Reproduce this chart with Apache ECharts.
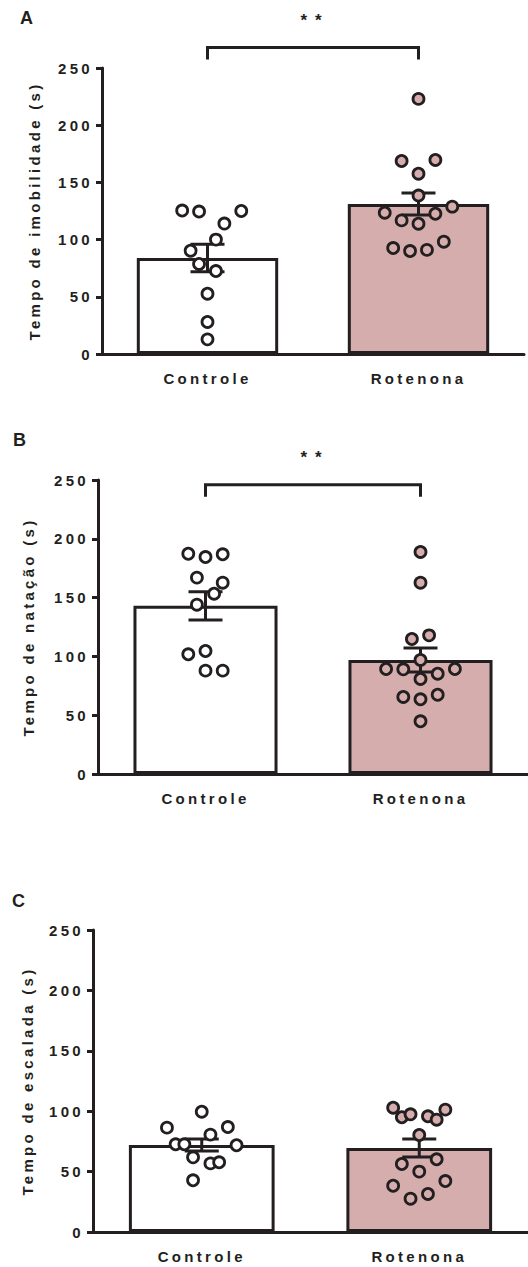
<!DOCTYPE html>
<html><head><meta charset="utf-8">
<script src="https://cdn.jsdelivr.net/npm/echarts@6/dist/echarts.min.js"></script>
<style>
html,body{margin:0;padding:0;background:#fff;}
#chart{width:528px;height:1267px;}
#chart text{letter-spacing:3.3px;}
</style></head><body><div id="chart"></div>
<script>
// ---------- data ----------
const categories = ['Controle', 'Rotenona'];
const yTickValues = [0, 50, 100, 150, 200, 250];

// A: immobility time
const imobMean = [84, 131.2];
const imobSem = [12, 9.6];
const imobCtrl = [125.4, 124.5, 125, 114, 100, 90.3, 78.7, 72.5, 52.7, 28, 12.8];
const imobCtrlJitter = [-3, -1, 4, 2, 1, -2, -1, 1, 0, 0, 0];
const imobRot = [223, 168.7, 169.6, 157.6, 138.5, 123.5, 128.8, 116.8, 122.6, 113.9, 92.6, 90, 91, 98.2];
const imobRotJitter = [0, -2, 2, 0, 0, -4, 4, -2, 2, 0, -3, -1, 1, 3];
const imobSig = '**';
const imobBracket = 268;

// B: swimming time
const natMean = [143, 97];
const natSem = [12, 10.2];
const natCtrl = [187.3, 184.5, 186.8, 167, 162.7, 153.3, 144, 101.8, 104.6, 87.9, 87.9];
const natCtrlJitter = [-2, 0, 2, -1, 2, 1, -1, -2, 0, 0, 2];
const natRot = [188.8, 162.7, 114.8, 117.9, 97, 89.3, 89, 89.3, 80.8, 85.3, 65.5, 63.5, 67.4, 44.8];
const natRotJitter = [0, 0, -1, 1, 0, -4, -2, 4, 0, 2, -2, 0, 2, 0];
const natSig = '**';
const natBracket = 246;

// C: climbing time
const escMean = [72, 69.5];
const escSem = [5, 7.5];
const escCtrl = [99.6, 86.4, 86.9, 80.6, 72.6, 72.6, 71.8, 61.8, 56.8, 57.7, 42.8];
const escCtrlJitter = [0, -4, 3, 1, -3, -2, 4, -1, 1, 2, -1];
const escRot = [102.9, 101.3, 95, 97.4, 95.8, 93, 80.3, 56.3, 60.2, 50, 38.3, 42.2, 27.6, 31.5];
const escRotJitter = [-3, 3, -2, -1, 1, 2, 0, -2, 2, 0, -3, 3, -1, 1];

// ---------- style / layout ----------
const INK = '#231f20';
const PINK = '#d5adad';
const FONT = '"Liberation Sans", Arial, Helvetica, sans-serif';
const JITTER_STEP = 0.04;

const panels = [
  { label: 'A', title: 'Tempo de imobilidade (s)', mean: imobMean, sem: imobSem,
    groups: [[imobCtrl, imobCtrlJitter], [imobRot, imobRotJitter]], sig: imobSig, bracket: imobBracket,
    grid: { left: 102, right: 4, top: 68, height: 286 }, nameGap: 60, labelPos: { left: 20, top: 9 } },
  { label: 'B', title: 'Tempo de natação (s)', mean: natMean, sem: natSem,
    groups: [[natCtrl, natCtrlJitter], [natRot, natRotJitter]], sig: natSig, bracket: natBracket,
    grid: { left: 98, right: -2, top: 480, height: 294 }, nameGap: 62, labelPos: { left: 13, top: 431 } },
  { label: 'C', title: 'Tempo de escalada (s)', mean: escMean, sem: escSem,
    groups: [[escCtrl, escCtrlJitter], [escRot, escRotJitter]], sig: null, bracket: null,
    grid: { left: 93, right: -1, top: 930, height: 302 }, nameGap: 58, labelPos: { left: 12, top: 892 } }
];

const grid = [], xAxis = [], yAxis = [], series = [], graphic = [];

panels.forEach((p, k) => {
  grid.push(p.grid);
  xAxis.push({
    type: 'category', gridIndex: k, data: categories, boundaryGap: true,
    axisLine: { onZero: false, lineStyle: { color: INK, width: 3 } },
    axisTick: { show: false },
    axisLabel: { color: INK, fontSize: 15, fontWeight: 'bold', fontFamily: FONT, margin: 17 }
  });
  xAxis.push({ type: 'value', gridIndex: k, min: -0.5, max: 1.5, show: false });
  yAxis.push({
    type: 'value', gridIndex: k, min: yTickValues[0], max: yTickValues[yTickValues.length - 1],
    interval: yTickValues[1] - yTickValues[0],
    name: p.title, nameLocation: 'middle', nameGap: p.nameGap, nameRotate: 90,
    nameTextStyle: { color: INK, fontSize: 15, fontWeight: 'bold', fontFamily: FONT },
    axisLine: { show: true, onZero: false, lineStyle: { color: INK, width: 3 } },
    axisTick: { show: true, length: 6, lineStyle: { color: INK, width: 3 } },
    axisLabel: { color: INK, fontSize: 15, fontWeight: 'bold', fontFamily: FONT, margin: 9 },
    splitLine: { show: false }
  });
  const xCat = 2 * k, xVal = 2 * k + 1;
  series.push({
    type: 'bar', xAxisIndex: xCat, yAxisIndex: k, barWidth: '67%', z: 2,
    data: p.mean.map((v, i) => ({ value: v, itemStyle: { color: i === 0 ? '#ffffff' : PINK } })),
    itemStyle: { borderColor: INK, borderWidth: 3 }
  });
  series.push({
    type: 'custom', xAxisIndex: xVal, yAxisIndex: k, z: 3, clip: false,
    data: p.mean.map((m, i) => [i, m, p.sem[i]]),
    renderItem: (params, api) => {
      const x = api.value(0), m = api.value(1), s = api.value(2);
      const t = api.coord([x, m + s]), b = api.coord([x, m - s]);
      const hw = 17, st = { stroke: INK, lineWidth: 3 };
      return { type: 'group', children: [
        { type: 'line', shape: { x1: t[0], y1: t[1], x2: b[0], y2: b[1] }, style: st },
        { type: 'line', shape: { x1: t[0] - hw, y1: t[1], x2: t[0] + hw, y2: t[1] }, style: st },
        { type: 'line', shape: { x1: b[0] - hw, y1: b[1], x2: b[0] + hw, y2: b[1] }, style: st }
      ] };
    }
  });
  p.groups.forEach(([vals, jit], i) => {
    series.push({
      type: 'scatter', xAxisIndex: xVal, yAxisIndex: k, z: 5,
      symbol: 'circle', symbolSize: 11,
      itemStyle: { color: i === 0 ? '#ffffff' : PINK, borderColor: INK, borderWidth: 2.8, opacity: 1 },
      data: vals.map((v, j) => [i + jit[j] * JITTER_STEP, v])
    });
  });
  if (p.sig) {
    series.push({
      type: 'custom', xAxisIndex: xVal, yAxisIndex: k, z: 4, clip: false,
      data: [[0, 1, p.bracket]],
      renderItem: (params, api) => {
        const a = api.coord([api.value(0), api.value(2)]);
        const b = api.coord([api.value(1), api.value(2)]);
        const leg = 12;
        return { type: 'group', children: [
          { type: 'polyline', shape: { points: [[a[0], a[1] + leg], a, b, [b[0], b[1] + leg]] },
            style: { stroke: INK, lineWidth: 3, fill: null } },
          { type: 'text', x: (a[0] + b[0]) / 2 + 2, y: a[1] - 27,
            style: { text: p.sig, fill: INK, font: 'bold 17px ' + FONT, align: 'center', verticalAlign: 'middle' } }
        ] };
      }
    });
  }
  graphic.push({
    type: 'text', left: p.labelPos.left, top: p.labelPos.top,
    style: { text: p.label, fill: INK, font: 'bold 18px ' + FONT }
  });
});

const chart = echarts.init(document.getElementById('chart'), null, { renderer: 'svg' });
chart.setOption({ animation: false, grid, xAxis, yAxis, series, graphic });
document.querySelectorAll('#chart text').forEach(t => {
  if (t.textContent === '**') t.style.letterSpacing = '8px';
});
</script></body></html>
